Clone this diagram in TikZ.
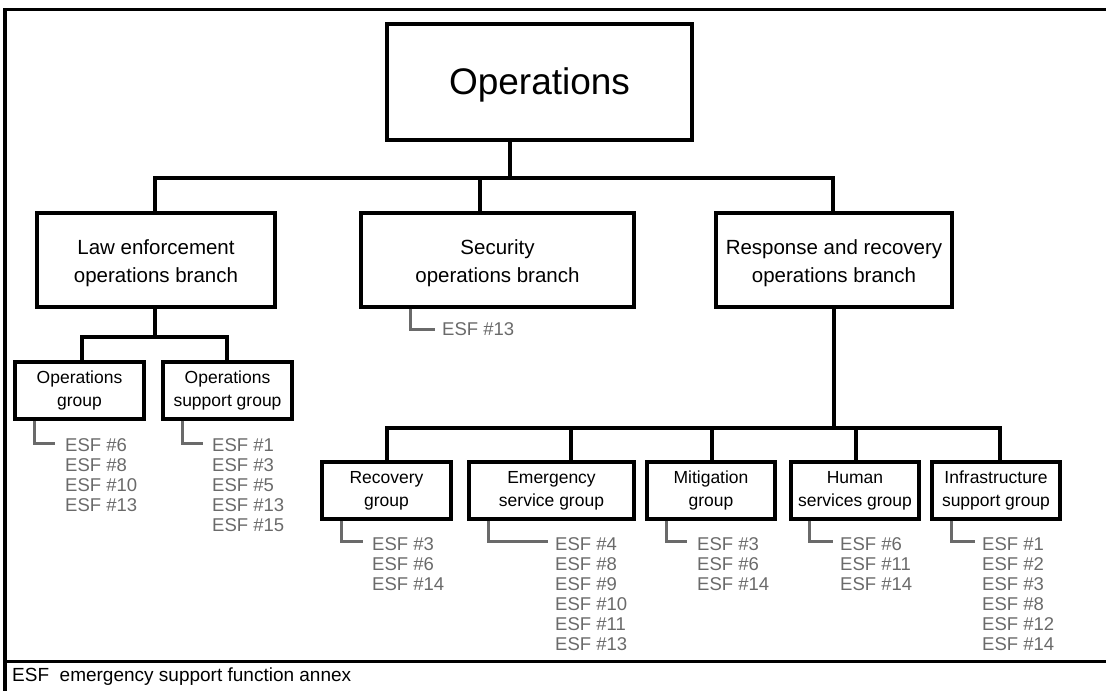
\documentclass[tikz,border=0pt]{standalone}
\usepackage{fontspec}
\setmainfont{Liberation Sans}
\definecolor{esfgray}{HTML}{6A6A6A}
\begin{document}
\begin{tikzpicture}[x=1pt,y=-1pt,
  box/.style={draw=black,line width=3.2pt,fill=white,inner sep=0pt,align=center},
  conn/.style={draw=black,line width=3.3pt},
  esfline/.style={draw=esfgray,line width=3pt},
  esftext/.style={anchor=north west,inner sep=0pt,text=esfgray,align=left,font=\fontsize{18.5}{20}\selectfont},
  grp/.style={box,minimum width=129pt,minimum height=57pt,font=\fontsize{17.5}{23}\selectfont},
  br/.style={box,minimum height=94pt}]
\useasboundingbox (0,0) rectangle (1106,691);
% frame
\draw[line width=3.2pt] (1106,9.5) -- (5,9.5) -- (5,691);
\draw[line width=3pt] (5,661) -- (1106,661);
\node[anchor=west,inner sep=0pt,font=\fontsize{19}{22}\selectfont] (foot) at (12,677) {ESF\ \ emergency support function annex};

% top
\node[box,minimum width=305pt,minimum height=116pt] (ops) at (539.5,82) {};
\node[inner sep=0pt,font=\fontsize{37}{40}\selectfont] (opst) at (539.5,85) {Operations};
% branches
\node[br,minimum width=238pt] (law) at (156,260) {};
\node[align=center,inner sep=0pt,font=\fontsize{20.5}{28}\selectfont] (lawt) at (156,263) {Law enforcement\\operations branch};
\node[br,minimum width=273pt] (sec) at (497.5,260) {};
\node[align=center,inner sep=0pt,font=\fontsize{20.5}{28}\selectfont] (sect) at (497.5,263) {Security\\operations branch};
\node[br,minimum width=236pt] (rr) at (834,260) {};
\node[align=center,inner sep=0pt,font=\fontsize{20.5}{28}\selectfont] (rrt) at (834,263) {Response and recovery\\operations branch};

\coordinate (busT) at (510,178);
\draw[conn] (ops.south -| busT) -- (busT);
\draw[conn] (law.north -| 155,0) -- (155,178) -- (833,178) -- (rr.north -| 833,0);
\draw[conn] (480,178) -- (sec.north -| 480,0);

% law subgroups
\node[grp] (og) at (79.5,390.5) {Operations\\group};
\node[grp] (osg) at (227.5,390.5) {Operations\\support group};
\draw[conn] (law.south -| 155,0) -- (155,337);
\draw[conn] (og.north -| 82,0) -- (82,337) -- (227,337) -- (osg.north -| 227,0);

% response subgroups
\node[grp] (rec) at (386.5,490.5) {Recovery\\group};
\node[grp,minimum width=165pt] (emg) at (551.5,490.5) {Emergency\\service group};
\node[grp,minimum width=128pt] (mit) at (711,490.5) {Mitigation\\group};
\node[grp,minimum width=128pt] (hum) at (855,490.5) {Human\\services group};
\node[grp,minimum width=128pt] (inf) at (996,490.5) {Infrastructure\\support group};
\draw[conn] (rr.south -| 834,0) -- (834,428);
\draw[conn] (rec.north -| 387,0) -- (387,428) -- (1000,428) -- (inf.north -| 1000,0);
\draw[conn] (571,428) -- (emg.north -| 571,0);
\draw[conn] (712,428) -- (mit.north -| 712,0);
\draw[conn] (856,428) -- (hum.north -| 856,0);

% ESF lists
\node[esftext] (esfsec) at (442,322) {ESF \#13};
\draw[esfline] (sec.south -| 410,0) -- (410,329) -- (435,329);

\node[esftext] (esfog) at (65,438) {ESF \#6\\ESF \#8\\ESF \#10\\ESF \#13};
\draw[esfline] (og.south -| 34,0) -- (34,443) -- (55,443);

\node[esftext] (esfosg) at (212,438) {ESF \#1\\ESF \#3\\ESF \#5\\ESF \#13\\ESF \#15};
\draw[esfline] (osg.south -| 182,0) -- (182,443) -- (203,443);

\node[esftext] (esfrec) at (372,537) {ESF \#3\\ESF \#6\\ESF \#14};
\draw[esfline] (rec.south -| 341,0) -- (341,541) -- (363,541);

\node[esftext] (esfemg) at (555,537) {ESF \#4\\ESF \#8\\ESF \#9\\ESF \#10\\ESF \#11\\ESF \#13};
\draw[esfline] (emg.south -| 488,0) -- (488,541) -- (548,541);

\node[esftext] (esfmit) at (697,537) {ESF \#3\\ESF \#6\\ESF \#14};
\draw[esfline] (mit.south -| 666,0) -- (666,541) -- (687,541);

\node[esftext] (esfhum) at (840,537) {ESF \#6\\ESF \#11\\ESF \#14};
\draw[esfline] (hum.south -| 809,0) -- (809,541) -- (833,541);

\node[esftext] (esfinf) at (982,537) {ESF \#1\\ESF \#2\\ESF \#3\\ESF \#8\\ESF \#12\\ESF \#14};
\draw[esfline] (inf.south -| 951,0) -- (951,541) -- (975,541);
\end{tikzpicture}
\end{document}
